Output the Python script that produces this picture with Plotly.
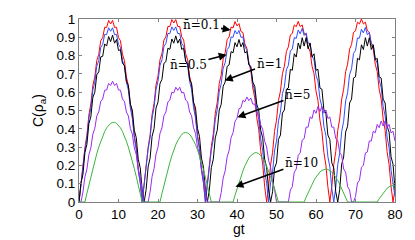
import plotly.graph_objects as go

# time axis (gt), sampled every 0.5
gt = [i * 0.5 for i in range(161)]

# concurrence values
c_n01 = [0, .109, .180, .298, .365, .476, .536, .636, .684, .773, .807, .881, .898, .955, .954, .992, .973, .992, .954, .955, .898, .881, .807, .773, .684, .636, .536, .476, .365, .298, .180, .109, 0,
         .109, .181, .299, .367, .478, .538, .640, .688, .777, .811, .885, .903, .959, .959, .997, .978, .997, .959, .959, .903, .885, .811, .777, .688, .640, .538, .478, .367, .299, .181, .109, 0,
         .110, .184, .304, .372, .485, .545, .647, .694, .782, .815, .887, .902, .956, .951, .986, .962, .975, .932, .926, .863, .839, .758, .718, .623, .569, .461, .396, .280, .208, .086, 0,
         .084, .202, .271, .385, .447, .554, .606, .701, .742, .822, .848, .913, .921, .968, .958, .987, .958, .968, .921, .913, .848, .822, .742, .701, .606, .554, .447, .385, .271, .202, .084, 0,
         .085, .205, .275, .391, .454, .562, .616, .712, .753, .835, .861, .927, .935, .983, .973, 1.0, .973, .983, .935, .927, .861, .835, .753, .712, .616, .562, .454, .391, .275, .205, .085, 0,
         .07]

c_n05 = [0, .105, .172, .286, .350, .457, .513, .611, .656, .742, .773, .845, .861, .916, .915, .952, .933, .952, .915, .916, .861, .845, .773, .742, .656, .611, .513, .457, .350, .286, .172, .105, 0,
         .105, .173, .288, .352, .459, .516, .614, .660, .746, .777, .850, .866, .921, .920, .957, .938, .957, .920, .921, .866, .850, .777, .746, .660, .614, .516, .459, .352, .288, .173, .105, 0,
         .103, .169, .282, .344, .450, .505, .602, .646, .731, .761, .832, .847, .902, .900, .937, .918, .937, .900, .902, .847, .832, .761, .731, .646, .602, .505, .450, .344, .282, .169, .103, 0,
         .104, .162, .279, .333, .443, .491, .593, .630, .722, .747, .825, .836, .899, .894, .940, .919, .949, .910, .924, .869, .866, .795, .777, .692, .660, .563, .521, .413, .363, .249, .192, .074, 0,
         .080, .204, .266, .385, .441, .552, .597, .696, .728, .812, .828, .896, .895, .944, .924, .954, .914, .925, .866, .858, .782, .758, .666, .627, .522, .471, .355, .296, .174, .110, .03]

c_n1 = [0, .103, .151, .270, .315, .428, .466, .571, .600, .695, .711, .793, .796, .864, .852, .904, .876, .912, .868, .888, .828, .832, .757, .747, .659, .636, .535, .502, .392, .351, .234, .187, .067, 0,
        .069, .192, .240, .359, .401, .513, .546, .647, .670, .758, .767, .840, .834, .891, .868, .908, .868, .891, .834, .840, .767, .758, .670, .647, .546, .513, .401, .359, .240, .192, .069, 0,
        .067, .188, .234, .351, .392, .502, .534, .633, .655, .741, .749, .822, .815, .871, .848, .888, .848, .871, .815, .822, .749, .741, .655, .633, .534, .502, .392, .351, .234, .188, .067, 0,
        .056, .186, .214, .342, .366, .486, .503, .616, .623, .725, .720, .810, .792, .869, .837, .898, .852, .898, .837, .869, .792, .810, .720, .725, .623, .616, .503, .486, .366, .342, .214, .186, .056, 0,
        .067, .207, .246, .382, .414, .541, .562, .677, .684, .785, .777, .859, .833, .898, .852, .898, .833, .859, .777, .785, .684, .677, .562, .541, .414, .382, .246, .207, .067]

c_n5 = [0, 0, .054, .137, .179, .259, .296, .371, .402, .470, .492, .550, .563, .611, .612, .648, .637, .66, .637, .648, .612, .611, .563, .550, .492, .470, .402, .371, .296, .259, .179, .137, .054, 0,
        0, 0, .055, .139, .182, .262, .300, .375, .405, .471, .492, .547, .557, .600, .596, .627, .610, .627, .596, .600, .557, .547, .492, .471, .405, .375, .300, .262, .182, .139, .055, 0,
        0, 0, 0, 0, 0, 0,
        .051, .131, .170, .247, .281, .352, .378, .441, .458, .509, .515, .555, .548, .574, .554, .568, .535, .535, .489, .478, .421, .398, .332, .301, .227, .190, .111, .071, 0,
        0, 0, 0, 0, 0, 0,
        .065, .084, .163, .180, .255, .269, .338, .346, .409, .409, .465, .456, .503, .485, .522, .495, .522, .485, .503, .456, .465, .409, .409, .346, .338, .269, .255, .180, .163, .084, .065, 0,
        0,
        .030, .104, .118, .190, .200, .268, .273, .334, .333, .387, .378, .424, .406, .443, .415, .443, .406, .424, .378, .387, .333]

c_n10 = [0, 0, 0, 0,
         .047, .094, .139, .183, .225, .264, .300, .332, .361, .385, .405, .420, .430, .435, .435, .430, .420, .405, .385, .361, .332, .300, .264, .225, .183, .139, .094, .047, 0,
         0, 0, 0, 0, 0, 0, 0, 0, 0,
         .046, .091, .135, .177, .216, .252, .285, .313, .336, .355, .369, .377, .38, .377, .369, .355, .336, .313, .285, .252, .216, .177, .135, .091, .046, 0,
         0, 0, 0, 0, 0, 0, 0, 0, 0, 0, 0,
         .037, .073, .107, .140, .170, .197, .221, .240, .254, .264, .269, .269, .264, .254, .240, .221, .197, .170, .140, .107, .073, .037, 0,
         0, 0, 0, 0, 0, 0, 0, 0, 0, 0, 0, 0, 0,
         .026, .051, .075, .097, .118, .136, .151, .164, .173, .178, .18, .178, .173, .164, .151, .136, .118, .097, .075, .051, .026, 0,
         0, 0, 0, 0, 0, 0, 0, 0, 0, 0, 0, 0, 0, 0, 0,
         .018, .034, .050, .064, .075, .083, .088, .09, .088]

series = [
    ("n=0.1", c_n01, "#ff0000"),
    ("n=0.5", c_n05, "#2f4dff"),
    ("n=1", c_n1, "#000000"),
    ("n=5", c_n5, "#9a2cf0"),
    ("n=10", c_n10, "#3cb43c"),
]

x_ticks = [0, 10, 20, 30, 40, 50, 60, 70, 80]
y_ticks = [0, 0.1, 0.2, 0.3, 0.4, 0.5, 0.6, 0.7, 0.8, 0.9, 1]
y_tick_text = ["0", "0.1", "0.2", "0.3", "0.4", "0.5", "0.6", "0.7", "0.8", "0.9", "1"]

# annotation labels: text, text centre (gt, C), arrow head (gt, C)
labels = [
    ("n\u0304=0.1", 30.9, 0.967, 38.4, 0.940),
    ("n\u0304=0.5", 27.7, 0.751, 37.4, 0.805),
    ("n\u0304=1", 48.1, 0.756, 36.9, 0.664),
    ("n\u0304=5", 55.3, 0.583, 40.1, 0.463),
    ("n\u0304=10", 56.3, 0.214, 39.6, 0.084),
]

fig = go.Figure()
for name, vals, col in series:
    fig.add_trace(go.Scatter(x=gt, y=vals, mode="lines", name=name,
                             line=dict(color=col, width=1)))

for txt, tx, ty, hx, hy in labels:
    fig.add_annotation(x=hx, y=hy, ax=tx, ay=ty, axref="x", ayref="y",
                       xref="x", yref="y", text=txt, showarrow=True,
                       arrowhead=2, arrowsize=1, arrowwidth=1.6,
                       arrowcolor="black",
                       font=dict(family="DejaVu Serif, Liberation Serif, serif",
                                 size=12, color="black"))

title_font = dict(family="Liberation Sans, Arial, sans-serif", size=14, color="black")
# axis titles
fig.add_annotation(text="C(\u03c1<sub>a</sub>)", xref="paper", yref="paper",
                   x=-0.128, y=0.5, textangle=-90, showarrow=False,
                   xanchor="center", yanchor="middle", font=title_font)
fig.add_annotation(text="gt", xref="paper", yref="paper",
                   x=0.505, y=-0.147, showarrow=False,
                   xanchor="center", yanchor="middle", font=title_font)

axis_common = dict(showline=True, linecolor="#808080", linewidth=1, mirror="ticks",
                   ticks="inside", ticklen=3, tickcolor="#808080",
                   showgrid=False, zeroline=False,
                   tickfont=dict(family="Liberation Sans, Arial, sans-serif",
                                 size=13.5, color="black"))

fig.update_layout(
    width=415, height=240,
    margin=dict(l=79, r=15, t=18, b=38),
    paper_bgcolor="white", plot_bgcolor="white",
    showlegend=False,
    xaxis=dict(range=[0, 80], tickvals=x_ticks, **axis_common),
    yaxis=dict(range=[0, 1], tickvals=y_ticks, ticktext=y_tick_text, **axis_common),
)

fig.write_html("out.html",
               config={"displayModeBar": False},
               post_script="document.body.style.margin='0';document.body.style.overflow='hidden';")
